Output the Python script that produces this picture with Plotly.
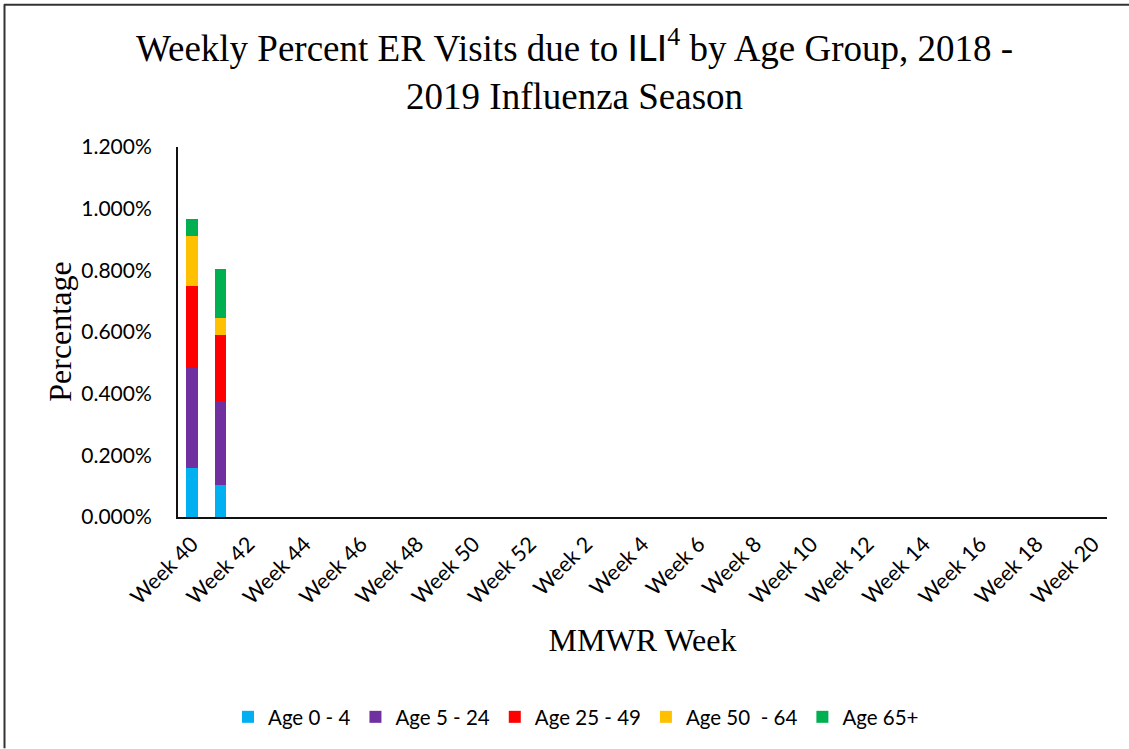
import plotly.graph_objects as go

weeks = [f"Week {w}" for w in list(range(40, 53)) + list(range(1, 21))]
tick_labels = weeks[::2]

age_groups = ["Age 0 - 4", "Age 5 - 24", "Age 25 - 49", "Age 50  - 64", "Age 65+"]
colors = ["#00B0F0", "#7030A0", "#FF0000", "#FFC000", "#00B050"]

# percent values (as fractions) for Week 40 and Week 41; later weeks have no data
age_0_4 = [0.00159, 0.00105]
age_5_24 = [0.00323, 0.00270]
age_25_49 = [0.00268, 0.00216]
age_50_64 = [0.00162, 0.00054]
age_65p = [0.00054, 0.00160]
series = [age_0_4, age_5_24, age_25_49, age_50_64, age_65p]

L, R, T, B = 178, 1107, 147, 517.5
W, H = 1129, 749
pw, ph = R - L, B - T

fig = go.Figure()
for name, col, vals in zip(age_groups, colors, series):
    y = vals + [None] * (len(weeks) - len(vals))
    fig.add_trace(go.Bar(x=weeks, y=y, name=name, marker=dict(color=col, line=dict(width=0))))

def px(x):
    return (x - L) / pw

def py(y):
    return (B - y) / ph

fig.update_layout(
    width=W, height=H,
    barmode="stack", bargap=0.6,
    plot_bgcolor="white", paper_bgcolor="white",
    margin=dict(l=L, r=W - R, t=T, b=H - B, pad=0),
    font=dict(family="Lato", size=17, color="black"),
    showlegend=True,
    legend=dict(
        orientation="h", xref="container", yref="container",
        x=576 / W, xanchor="center", y=1 - 717 / H, yanchor="middle",
        font=dict(family="Lato", size=20.5, color="black"),
        traceorder="normal", itemwidth=30,
    ),
    xaxis=dict(
        type="category", categoryorder="array", categoryarray=weeks,
        tickmode="array", tickvals=tick_labels, ticktext=tick_labels,
        tickangle=-45, showgrid=False, showline=True, linecolor="#111111", linewidth=2,
        ticks="", ticklabelstandoff=4, tickfont=dict(family="Lato", size=21.5, color="black"),
        title=dict(text="MMWR Week", font=dict(family="Liberation Serif", size=32, color="black"), standoff=20),
    ),
    yaxis=dict(
        range=[0, 0.012], tickmode="linear", tick0=0, dtick=0.002, tickformat=".3%",
        showgrid=False, showline=True, linecolor="#111111", linewidth=2, zeroline=False,
        ticks="", ticklabelstandoff=20, tickfont=dict(family="Lato", size=21, color="black"),
    ),
    annotations=[
        dict(
            text="Weekly Percent ER Visits due to <span style=\"font-family:Lato\">ILI</span><sup>4</sup> by Age Group, 2018 -<br>2019 Influenza Season",
            xref="paper", yref="paper", x=px(574), y=py(69.5),
            xanchor="center", yanchor="middle", showarrow=False,
            font=dict(family="Liberation Serif", size=37, color="black"),
        ),
        dict(
            text="Percentage", textangle=-90,
            xref="paper", yref="paper", x=px(60), y=py(332),
            xanchor="center", yanchor="middle", showarrow=False,
            font=dict(family="Liberation Serif", size=32, color="black"),
        ),
    ],
    shapes=[
        dict(type="line", xref="paper", yref="paper", x0=px(4), x1=px(W), y0=py(4.5), y1=py(4.5),
             line=dict(color="#333333", width=2)),
        dict(type="line", xref="paper", yref="paper", x0=px(4.5), x1=px(4.5), y0=py(4), y1=py(H),
             line=dict(color="#333333", width=2)),
    ],
)

fig.write_html("out.html", config={"displayModeBar": False},
               post_script="document.body.style.margin='0px';")
